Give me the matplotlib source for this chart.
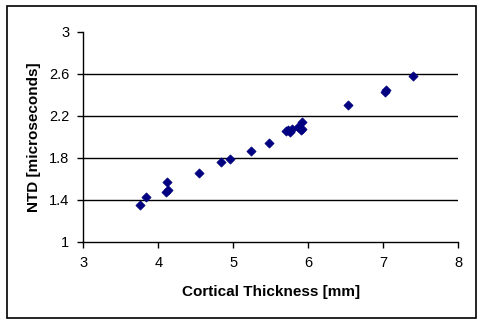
import matplotlib.pyplot as plt
from matplotlib.patches import Rectangle

plt.rcParams['font.family'] = ['Liberation Sans', 'DejaVu Sans']

thickness = [3.76, 3.83, 4.11, 4.13, 4.10, 4.54, 4.84, 4.95, 5.23, 5.48,
             5.70, 5.76, 5.78, 5.73, 5.86, 5.90, 5.92, 5.91, 6.53, 7.02,
             7.04, 7.40]
ntd = [1.35, 1.43, 1.57, 1.49, 1.47, 1.65, 1.76, 1.79, 1.86, 1.94,
       2.05, 2.04, 2.07, 2.06, 2.09, 2.06, 2.14, 2.07, 2.30, 2.43,
       2.44, 2.58]

xticks = [3, 4, 5, 6, 7, 8]
yticks = [1, 1.4, 1.8, 2.2, 2.6, 3]

fig = plt.figure(figsize=(4.84, 3.26), dpi=100)
ax = fig.add_axes([0.172, 0.2586, 0.775, 0.6442])

for y in yticks[1:-1]:
    ax.axhline(y, color='black', lw=1.0, zorder=1)

ax.scatter(thickness, ntd, marker='D', s=22, color='#000080',
           edgecolors='#000080', linewidths=0.5, zorder=3)

ax.set_xlim(3, 8)
ax.set_ylim(1, 3)
ax.set_xticks(xticks)
ax.set_yticks(yticks)
ax.set_xticklabels([str(v) for v in xticks])
ax.set_yticklabels(['1', '1.4', '1.8', '2.2', '2.6', '3'])
ax.tick_params(direction='out', length=4, width=1, labelsize=10.5, pad=6)
ax.spines['top'].set_visible(False)
ax.spines['right'].set_visible(False)
for s in ('left', 'bottom'):
    ax.spines[s].set_linewidth(1.0)

ax.set_xlabel('Cortical Thickness [mm]', fontsize=11, fontweight='bold', labelpad=11)
ax.set_ylabel('NTD [microseconds]', fontsize=11, fontweight='bold', labelpad=6)

fig.patches.append(Rectangle((7 / 484, 1 - 318 / 326), 469 / 484, 312 / 326,
                             transform=fig.transFigure, fill=False,
                             edgecolor='black', lw=1.2))

fig.savefig('out.png', dpi=100)
